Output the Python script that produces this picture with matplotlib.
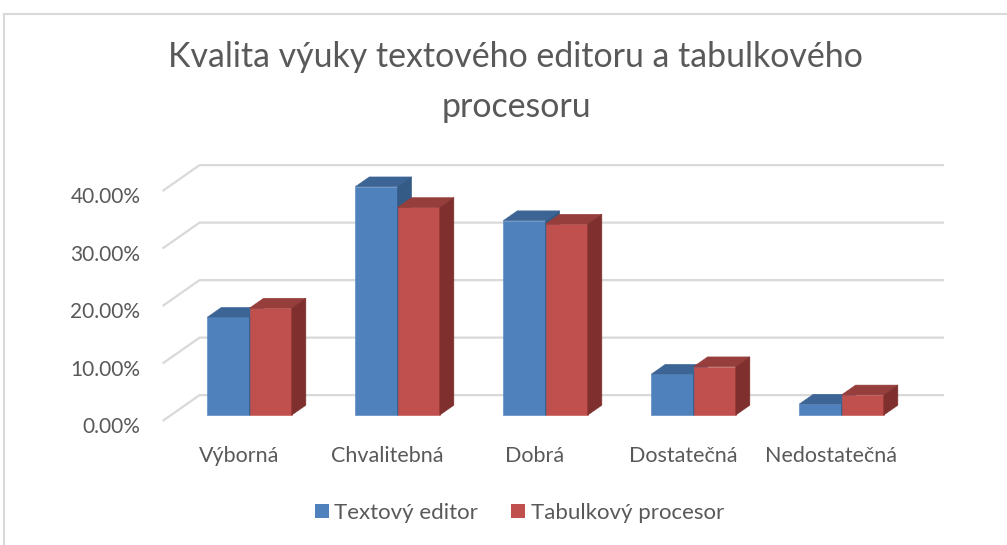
import matplotlib
matplotlib.use("Agg")
import matplotlib.pyplot as plt
from matplotlib.patches import Polygon, Patch
from matplotlib.lines import Line2D

kategorie = ["Výborná", "Chvalitebná", "Dobrá", "Dostatečná", "Nedostatečná"]
serie = ["Textový editor", "Tabulkový procesor"]
textovy_editor = [17.0, 39.7, 33.8, 7.1, 1.9]
tabulkovy_procesor = [18.6, 36.1, 33.2, 8.4, 3.5]
osa_y = [0, 10, 20, 30, 40]
popisky_y = ["0.00%", "10.00%", "20.00%", "30.00%", "40.00%"]

# barvy: predni stena, vrch, bok
barvy = [("#4F81BD", "#3C6595", "#345A86"),
         ("#C0504D", "#963E3C", "#7F302E")]
SEDA = "#595959"

SIRKA = 1 / 3.5      # sirka sloupce (mezera 150 %)
HLOUBKA_X = 0.25     # posun zadni steny v kategoriich
HLOUBKA_Y = 4.5      # posun zadni steny v procentech
PRED = 0.23          # kde v hloubce zacina sloupec
TLOUSTKA = 0.38      # hloubka sloupce

plt.rcParams['font.family'] = ['Lato', 'DejaVu Sans']

fig = plt.figure(figsize=(10.07, 5.45), dpi=100)
ax = fig.add_axes([0, 0, 1, 1])
ax.set_xlim(-241 / 148, (1007 - 241) / 148)
ax.set_ylim(-124 / 5.75, 421 / 5.75)
ax.axis('off')

# mrizka na zadni stene + sikme cary k popiskum
x_lev = -0.53
x_prav = len(kategorie) - 0.5
for v, txt in zip(osa_y, popisky_y):
    ax.plot([x_lev, x_lev + HLOUBKA_X, x_prav + HLOUBKA_X],
            [v, v + HLOUBKA_Y, v + HLOUBKA_Y],
            color="#D9D9D9", lw=1.6, zorder=1, solid_capstyle='butt')
    ax.text(x_lev - 0.15, v - 2.1, txt, ha='right', va='baseline',
            fontsize=15, color=SEDA)

# sloupce jako 3D kvadry
dx = TLOUSTKA * HLOUBKA_X
dy = TLOUSTKA * HLOUBKA_Y
for i in range(len(kategorie)):
    for s, hodnoty in enumerate([textovy_editor, tabulkovy_procesor]):
        v = hodnoty[i]
        x0 = i - SIRKA + s * SIRKA + PRED * HLOUBKA_X
        y0 = PRED * HLOUBKA_Y
        y1 = y0 + v
        predni, vrch, bok = barvy[s]
        z = 2 + i * 3 + s
        ax.add_patch(Polygon([(x0, y0), (x0 + SIRKA, y0), (x0 + SIRKA, y1), (x0, y1)],
                             closed=True, fc=predni, ec=predni, lw=0.4, zorder=z))
        ax.add_patch(Polygon([(x0, y1), (x0 + SIRKA, y1), (x0 + SIRKA + dx, y1 + dy),
                              (x0 + dx, y1 + dy)],
                             closed=True, fc=vrch, ec=vrch, lw=0.4, zorder=z))
        ax.add_patch(Polygon([(x0 + SIRKA, y0), (x0 + SIRKA, y1), (x0 + SIRKA + dx, y1 + dy),
                              (x0 + SIRKA + dx, y0 + dy)],
                             closed=True, fc=bok, ec=bok, lw=0.4, zorder=z))
    ax.text(i - 0.015, -7.1, kategorie[i], ha='center', va='baseline',
            fontsize=15.5, color=SEDA)

# nadpis
fig.text(515 / 1007, 1 - 67 / 545, "Kvalita výuky textového editoru a tabulkového",
         ha='center', va='baseline', fontsize=24.4, color=SEDA)
fig.text(516 / 1007, 1 - 117 / 545, "procesoru",
         ha='center', va='baseline', fontsize=24.4, color=SEDA)

# legenda
handles = [Patch(facecolor=barvy[0][0]), Patch(facecolor=barvy[1][0])]
fig.legend(handles, serie, loc='center', bbox_to_anchor=(519.5 / 1007, 1 - 513 / 545),
           ncol=2, frameon=False, fontsize=16, labelcolor=SEDA,
           handlelength=0.63, handleheight=0.63, handletextpad=0.25, columnspacing=1.5)

# okraj grafu
fig.add_artist(Line2D([4 / 1007, 4 / 1007], [0, 1 - 14 / 545], color="#D9D9D9", lw=1.5))
fig.add_artist(Line2D([4 / 1007, 1], [1 - 14 / 545, 1 - 14 / 545], color="#D9D9D9", lw=1.5))

fig.savefig("out.png", dpi=100)
